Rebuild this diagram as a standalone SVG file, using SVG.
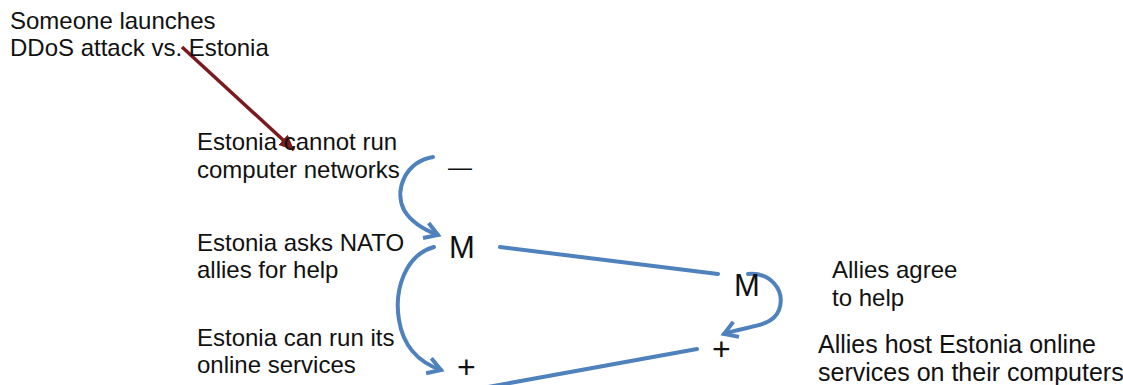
<svg xmlns="http://www.w3.org/2000/svg" width="1123" height="385" viewBox="0 0 1123 385">
<style>
text{font-family:"Liberation Sans",Arial,"DejaVu Sans",sans-serif;fill:#111;}
.t{font-size:24px;}
.t2{font-size:25px;}
.sym{font-size:31px;}
.pl{font-size:32px;}
.blue{fill:none;stroke:#4F81BD;stroke-width:4;stroke-linecap:round;}
.red{fill:none;stroke:#7A1A1E;stroke-width:3.5;}
</style>
<defs>
<marker id="openArrow" markerUnits="userSpaceOnUse" markerWidth="24" markerHeight="24" refX="16" refY="10" orient="auto">
<path d="M3,2 L16,10 L3,18" fill="none" stroke="#4F81BD" stroke-width="4" stroke-linejoin="miter"/>
</marker>
<marker id="redArrow" markerUnits="userSpaceOnUse" markerWidth="20" markerHeight="16" refX="15" refY="7" orient="auto">
<path d="M0,0 L15,7 L0,14 z" fill="#7A1A1E"/>
</marker>
</defs>
<rect width="1123" height="385" fill="#fff"/>
<g id="connectors">
<line class="red" x1="182" y1="47" x2="294" y2="150" marker-end="url(#redArrow)"/>
<path class="blue" d="M433,157 C405,162 394,190 404,210 C411,222 422,229 438,235" marker-end="url(#openArrow)"/>
<path class="blue" d="M434,247 C405,255 394,290 399,320 C403,345 418,362 441,370" marker-end="url(#openArrow)"/>
<line class="blue" x1="500" y1="247" x2="718" y2="274"/>
<path class="blue" d="M748,274 C770,272 786,290 779,310 C772,328 745,326 724,334" marker-end="url(#openArrow)"/>
<line class="blue" x1="697" y1="349" x2="488" y2="387"/>
</g>
<g id="node-ddos">
<text class="t" x="10" y="29">Someone launches</text>
<text class="t" x="10" y="56">DDoS attack vs. Estonia</text>
</g>
<g id="node-cannot-run">
<text class="t" x="197" y="150">Estonia cannot run</text>
<text class="t" x="197" y="178">computer networks</text>
<text class="t" x="448" y="175">—</text>
</g>
<g id="node-asks-nato">
<text class="t" x="197" y="251">Estonia asks NATO</text>
<text class="t" x="197" y="278">allies for help</text>
<text class="sym" x="449" y="258">M</text>
</g>
<g id="node-can-run">
<text class="t" x="197" y="346">Estonia can run its</text>
<text class="t" x="197" y="373">online services</text>
<text class="pl" x="457" y="378">+</text>
</g>
<g id="node-allies-agree">
<text class="sym" x="734" y="296">M</text>
<text class="t" x="832" y="278">Allies agree</text>
<text class="t" x="832" y="306">to help</text>
</g>
<g id="node-allies-host">
<text class="pl" x="712" y="360">+</text>
<text class="t2" x="818" y="353">Allies host Estonia online</text>
<text class="t2" x="818" y="381">services on their computers</text>
</g>
</svg>
